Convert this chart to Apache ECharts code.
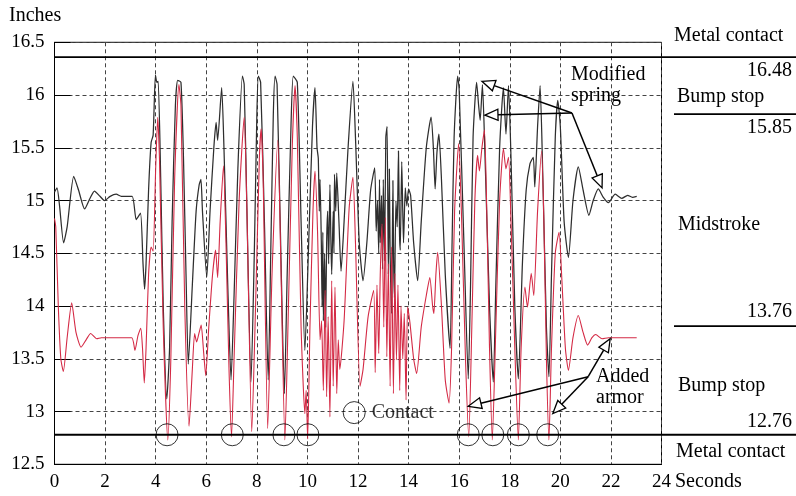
<!DOCTYPE html>
<html>
<head>
<meta charset="utf-8">
<script src="https://cdn.jsdelivr.net/npm/echarts@6/dist/echarts.min.js"></script>
<style>
  html, body { margin: 0; padding: 0; background: #fff; }
  #chart { width: 796px; height: 496px; }
</style>
</head>
<body>
<div id="chart"></div>
<script>
// Suspension travel (inches) against time (seconds)
const xTicks = [0, 2, 4, 6, 8, 10, 12, 14, 16, 18, 20, 22, 24];
const yTicks = [12.5, 13, 13.5, 14, 14.5, 15, 15.5, 16, 16.5];

// Black trace: modified spring
const springTrace = [
  [0, 15.08], [0.1, 15.12], [0.2, 14.95], [0.36, 14.6], [0.5, 14.75], [0.76, 15.23], [0.95, 15.1],
  [1.19, 14.92], [1.4, 15.02], [1.58, 15.09], [1.8, 15.04], [1.98, 15.0], [2.2, 15.04], [2.44, 15.06],
  [2.64, 15.04], [3.07, 15.04], [3.23, 14.82], [3.40, 14.88], [3.5, 14.4], [3.56, 14.16], [3.62, 14.4],
  [3.72, 15.1], [3.82, 15.55], [3.9, 15.62], [3.99, 16.19], [4.05, 16.12], [4.1, 16.13], [4.2, 15.2],
  [4.3, 14.0], [4.44, 13.12], [4.55, 13.6], [4.65, 14.8], [4.78, 15.9], [4.87, 16.14], [5.0, 16.12],
  [5.1, 15.4], [5.2, 14.3], [5.29, 13.45], [5.45, 14.2], [5.6, 14.9], [5.72, 15.15], [5.79, 15.2],
  [5.85, 14.9], [6.02, 14.27], [6.15, 14.9], [6.3, 15.5], [6.39, 15.74], [6.45, 15.57], [6.61, 16.07],
  [6.7, 15.5], [6.85, 14.2], [6.98, 13.30], [7.1, 14.1], [7.25, 15.3], [7.43, 16.18], [7.5, 16.1],
  [7.6, 15.0], [7.77, 13.28], [7.9, 14.5], [8.0, 15.8], [8.06, 16.18], [8.15, 16.12], [8.3, 14.8],
  [8.45, 13.30], [8.55, 14.5], [8.65, 15.8], [8.72, 16.18], [8.8, 16.1], [8.95, 14.5], [9.09, 13.17],
  [9.2, 14.3], [9.35, 15.7], [9.44, 16.18], [9.6, 16.12], [9.75, 14.8], [9.9, 13.58], [10.05, 14.6],
  [10.2, 15.7], [10.3, 16.07], [10.38, 15.5], [10.43, 15.4], [10.47, 14.9], [10.5, 15.2], [10.55, 14.6],
  [10.58, 14.0], [10.61, 14.7], [10.63, 13.86], [10.68, 14.5], [10.72, 13.8], [10.76, 14.6], [10.8, 14.9],
  [10.84, 14.4], [10.89, 15.15], [10.93, 14.6], [10.96, 14.3], [11.02, 14.9], [11.05, 14.5], [11.07, 15.25],
  [11.12, 14.9], [11.16, 15.26], [11.25, 14.78], [11.33, 14.33], [11.45, 14.8], [11.6, 15.47], [11.8, 16.13],
  [11.9, 15.6], [12.05, 14.6], [12.2, 14.24], [12.35, 14.6], [12.5, 15.1], [12.66, 15.31], [12.72, 14.71],
  [12.77, 15.0], [12.82, 14.5], [12.85, 15.2], [12.88, 14.6], [12.93, 15.05], [12.97, 14.35], [13.0, 15.2],
  [13.05, 14.43], [13.1, 15.6], [13.15, 15.7], [13.2, 14.3], [13.24, 15.3], [13.27, 14.5], [13.33, 13.93],
  [13.38, 15.19], [13.41, 14.4], [13.44, 14.08], [13.5, 15.0], [13.55, 14.75], [13.6, 15.47], [13.64, 14.7],
  [13.67, 14.53], [13.73, 15.37], [13.77, 14.9], [13.8, 14.6], [13.87, 15.12], [13.93, 14.95], [14.0, 15.11],
  [14.08, 15.05], [14.2, 14.6], [14.36, 14.24], [14.5, 14.8], [14.7, 15.5], [14.89, 15.79], [14.98, 15.5],
  [15.05, 15.11], [15.12, 15.45], [15.2, 15.63], [15.3, 15.2], [15.45, 14.3], [15.64, 13.6], [15.72, 14.6],
  [15.8, 15.6], [15.94, 16.18], [16.0, 16.05], [16.2, 14.5], [16.36, 13.31], [16.45, 14.2], [16.55, 15.6],
  [16.69, 16.12], [16.77, 15.9], [16.83, 15.76], [16.92, 16.1], [17.0, 15.6], [17.2, 14.0], [17.35, 13.28],
  [17.45, 14.2], [17.6, 15.5], [17.75, 16.07], [17.85, 15.63], [17.95, 16.09], [18.05, 15.4], [18.2, 14.0],
  [18.34, 13.31], [18.5, 14.4], [18.65, 15.1], [18.8, 15.35], [18.93, 15.41], [18.99, 15.13], [19.1, 15.7],
  [19.2, 16.09], [19.3, 15.3], [19.45, 13.8], [19.55, 13.33], [19.65, 14.3], [19.8, 15.6], [19.9, 15.95],
  [20.0, 15.7], [20.15, 14.8], [20.32, 14.46], [20.5, 15.0], [20.71, 15.32], [20.9, 15.1], [21.13, 14.86],
  [21.3, 15.0], [21.5, 15.11], [21.7, 15.03], [21.9, 14.98], [22.17, 15.06], [22.43, 15.02], [22.66, 15.05],
  [22.85, 15.03], [23.02, 15.04]
];

// Red trace: added armor
const armorTrace = [
  [0, 14.83], [0.05, 14.75], [0.15, 14.0], [0.25, 13.5], [0.35, 13.38], [0.5, 13.7], [0.68, 14.03],
  [0.85, 13.75], [1.05, 13.61], [1.25, 13.68], [1.43, 13.74], [1.67, 13.69], [1.85, 13.7], [3.05, 13.7],
  [3.18, 13.58], [3.3, 13.72], [3.41, 13.79], [3.48, 13.6], [3.55, 13.27], [3.62, 13.6], [3.72, 14.3],
  [3.82, 14.56], [3.9, 14.52], [4.0, 15.3], [4.08, 15.79], [4.15, 15.4], [4.3, 13.8], [4.48, 12.73],
  [4.6, 13.5], [4.75, 15.2], [4.92, 16.1], [5.0, 15.9], [5.15, 14.0], [5.32, 12.86], [5.45, 13.4],
  [5.54, 13.74], [5.62, 13.66], [5.72, 13.75], [5.8, 13.82], [5.9, 13.55], [5.98, 13.34], [6.1, 13.8],
  [6.25, 14.3], [6.37, 14.53], [6.45, 14.27], [6.55, 14.8], [6.68, 15.33], [6.78, 14.6], [6.9, 13.4],
  [7.0, 12.76], [7.1, 13.5], [7.3, 15.0], [7.5, 15.79], [7.6, 15.0], [7.8, 12.81], [7.95, 14.0],
  [8.1, 15.4], [8.17, 15.68], [8.25, 15.2], [8.43, 12.84], [8.6, 14.3], [8.83, 15.57], [8.95, 14.4],
  [9.11, 12.73], [9.25, 14.0], [9.4, 15.5], [9.51, 16.09], [9.6, 15.6], [9.75, 13.8], [9.9, 12.98],
  [9.95, 13.2], [10.01, 12.74], [10.1, 13.8], [10.22, 14.9], [10.3, 15.28], [10.4, 14.71], [10.5, 13.68],
  [10.56, 13.86], [10.63, 13.2], [10.7, 14.15], [10.76, 13.14], [10.82, 13.9], [10.89, 12.95], [10.96, 14.24],
  [11.02, 13.24], [11.09, 14.18], [11.16, 13.17], [11.22, 13.68], [11.28, 13.4], [11.45, 13.86], [11.65, 14.93],
  [11.8, 15.22], [11.9, 14.6], [12.08, 13.24], [12.2, 13.4], [12.4, 13.9], [12.62, 14.15], [12.68, 13.37],
  [12.75, 14.2], [12.82, 13.55], [12.88, 14.3], [12.95, 14.78], [13.02, 13.8], [13.08, 14.84], [13.14, 13.52],
  [13.2, 14.4], [13.27, 13.24], [13.33, 14.56], [13.4, 13.17], [13.46, 14.31], [13.52, 13.49], [13.58, 14.2],
  [13.65, 13.2], [13.7, 14.0], [13.77, 13.5], [13.83, 13.93], [13.9, 13.11], [13.96, 13.99], [14.05, 13.85],
  [14.2, 13.5], [14.32, 13.36], [14.5, 13.8], [14.7, 14.1], [14.84, 14.27], [14.95, 14.0], [15.0, 13.93],
  [15.08, 14.3], [15.15, 14.51], [15.3, 14.0], [15.45, 13.3], [15.6, 13.08], [15.7, 13.6], [15.82, 14.9],
  [15.98, 15.54], [16.1, 14.8], [16.25, 13.5], [16.38, 12.76], [16.5, 13.8], [16.62, 15.0], [16.73, 15.43],
  [16.8, 15.28], [16.9, 15.5], [17.0, 15.67], [17.1, 14.8], [17.2, 13.6], [17.31, 12.73], [17.45, 13.8],
  [17.6, 15.0], [17.75, 15.49], [17.85, 15.3], [17.95, 15.41], [18.05, 14.8], [18.2, 13.6], [18.34, 12.73],
  [18.45, 13.6], [18.6, 14.18], [18.7, 13.99], [18.85, 14.31], [18.95, 14.1], [19.1, 14.9], [19.26, 15.47],
  [19.35, 14.8], [19.45, 13.5], [19.55, 12.73], [19.65, 13.6], [19.8, 14.5], [19.95, 14.7], [20.05, 14.3],
  [20.2, 13.6], [20.32, 13.39], [20.5, 13.7], [20.71, 13.91], [20.9, 13.75], [21.08, 13.63], [21.25, 13.7],
  [21.4, 13.73], [21.65, 13.69], [21.9, 13.7], [23.02, 13.7]
];

// Moments where the suspension reached metal contact
const contactTimes = [4.45, 7.03, 9.07, 10.02, 16.36, 17.33, 18.34, 19.5];
const metalContactLow = 12.78;
const metalContactHigh = 16.36;
const zoneDividers = [15.82, 13.81];

// Callout arrows: [label anchor, arrow tips]
const springCallout = { from: [20.46, 15.83], tips: [[16.9, 16.13], [17.02, 15.81], [21.65, 15.12]] };
const armorCallout = { from: [21.1, 13.33], tips: [[16.36, 13.05], [19.7, 12.98], [21.97, 13.69]] };
const contactKey = [11.85, 12.99];

const FONT = '"Liberation Serif", "Times New Roman", serif';
const FS_NUM = 19;
const FS_TXT = 20;

const chart = echarts.init(document.getElementById('chart'), null, { renderer: 'canvas' });

const dashed = { show: true, lineStyle: { color: '#444', type: [4, 3], width: 1 } };

chart.setOption({
  animation: false,
  backgroundColor: '#fff',
  grid: { left: 54.5, right: 134.5, top: 42.3, bottom: 31.7, show: true, borderColor: '#000', borderWidth: 1 },
  xAxis: {
    type: 'value', min: xTicks[0], max: xTicks[xTicks.length - 1], interval: 2,
    axisLine: { show: true, lineStyle: { color: '#000' } },
    axisTick: { show: false },
    axisLabel: { color: '#000', fontFamily: FONT, fontSize: FS_NUM, margin: 8 },
    splitLine: dashed
  },
  yAxis: {
    type: 'value', min: yTicks[0], max: yTicks[yTicks.length - 1], interval: 0.5,
    axisLine: { show: true, lineStyle: { color: '#000' } },
    axisTick: { show: true, inside: true, length: 16, lineStyle: { color: '#000', width: 1 } },
    axisLabel: { color: '#000', fontFamily: FONT, fontSize: FS_NUM, margin: 10 },
    splitLine: dashed
  },
  series: [
    {
      name: 'Modified spring', type: 'line', data: springTrace, showSymbol: false, smooth: 0.2,
      lineStyle: { color: '#2e2e2e', width: 1.25 }, z: 3
    },
    {
      name: 'Added armor', type: 'line', data: armorTrace, showSymbol: false, smooth: 0.2,
      lineStyle: { color: '#d42a45', width: 1.1 }, z: 4
    },
    {
      name: 'Contact', type: 'scatter', symbol: 'circle', symbolSize: 22,
      data: contactTimes.map(t => [t, metalContactLow]),
      itemStyle: { color: 'rgba(0,0,0,0)', borderColor: '#000', borderWidth: 1 }, z: 6
    },
    {
      name: 'Contact key', type: 'scatter', symbol: 'circle', symbolSize: 22,
      data: [contactKey],
      itemStyle: { color: 'rgba(255,255,255,0)', borderColor: '#000', borderWidth: 1 },
      label: { show: true, position: 'right', distance: 6, formatter: 'Contact', color: '#000', fontFamily: FONT, fontSize: FS_TXT },
      z: 6
    }
  ]
});

function toPx(p) { return chart.convertToPixel({ gridIndex: 0 }, p); }

const g = [];
const W = 796;
const plotLeft = toPx([0, 0])[0];

// Metal contact limits run across the plot and out to the right margin
[metalContactHigh, metalContactLow].forEach(v => {
  const y = toPx([0, v])[1];
  g.push({ type: 'line', shape: { x1: plotLeft, y1: y, x2: W, y2: y }, style: { stroke: '#000', lineWidth: 1.8 }, z: 10 });
});
zoneDividers.forEach(v => {
  const y = toPx([0, v])[1];
  g.push({ type: 'line', shape: { x1: 674, y1: y, x2: W, y2: y }, style: { stroke: '#000', lineWidth: 1.8 }, z: 10 });
});

function arrow(from, to) {
  const a = toPx(from), b = toPx(to);
  const dx = b[0] - a[0], dy = b[1] - a[1];
  const len = Math.hypot(dx, dy);
  const ux = dx / len, uy = dy / len;
  const L = 13, H = 5.5;
  const bx = b[0] - ux * L, by = b[1] - uy * L;
  g.push({ type: 'line', shape: { x1: a[0], y1: a[1], x2: bx, y2: by }, style: { stroke: '#000', lineWidth: 1.5 }, z: 11 });
  g.push({ type: 'polygon', shape: { points: [[b[0], b[1]], [bx - uy * H, by + ux * H], [bx + uy * H, by - ux * H]] },
    style: { fill: '#fff', stroke: '#000', lineWidth: 1.3 }, z: 12 });
}
springCallout.tips.forEach(t => arrow(springCallout.from, t));
armorCallout.tips.forEach(t => arrow(armorCallout.from, t));

function text(str, x, y, align, size) {
  g.push({ type: 'text', x: x, y: y, z: 13,
    style: { text: str, font: (size || FS_TXT) + 'px ' + FONT, fill: '#000', align: align || 'left', verticalAlign: 'middle' } });
}
text('Inches', 9, 16);
text('Seconds', 675, 482);
text('Modified', 571, 75);
text('spring', 571, 96);
text('Added', 596, 377);
text('armor', 596, 398);
text('Metal contact', 674, 36);
text('16.48', 792, 71, 'right');
text('Bump stop', 677, 97);
text('15.85', 792, 128, 'right');
text('Midstroke', 678, 225);
text('13.76', 792, 312, 'right');
text('Bump stop', 678, 386);
text('12.76', 792, 422, 'right');
text('Metal contact', 676, 452);

chart.setOption({ graphic: { elements: g } });
</script>
</body>
</html>
